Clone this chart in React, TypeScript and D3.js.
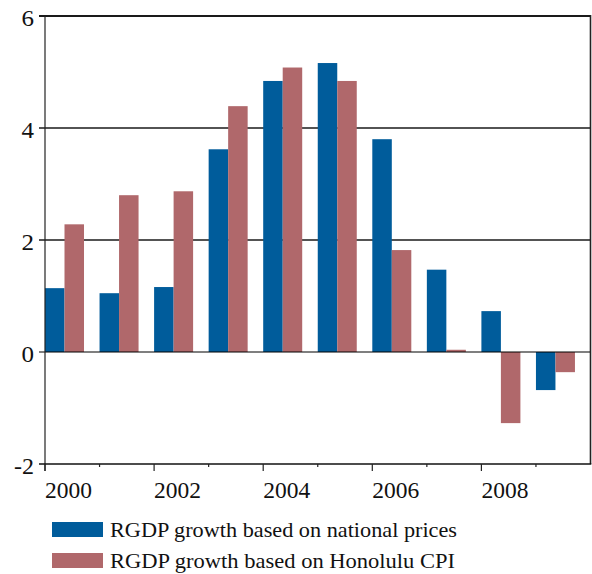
import React, { useEffect, useRef } from "react";
import * as d3 from "d3";

// chart data
const years = [2000, 2001, 2002, 2003, 2004, 2005, 2006, 2007, 2008, 2009];
const nationalPrices = [1.14, 1.05, 1.16, 3.62, 4.84, 5.16, 3.8, 1.47, 0.73, -0.68];
const honoluluCpi = [2.28, 2.8, 2.87, 4.39, 5.08, 4.84, 1.82, 0.04, -1.27, -0.36];
const seriesNames = [
  "RGDP growth based on national prices",
  "RGDP growth based on Honolulu CPI",
];
const seriesColors = ["#005c9b", "#b0686b"];
const yTicks = [-2, 0, 2, 4, 6];
const yearLabels = [2000, 2002, 2004, 2006, 2008];

const FONT = "'Liberation Serif', 'Times New Roman', Times, Tinos, serif";

const drawChart = (node: SVGSVGElement) => {
  const svg = d3.select(node);
  svg.selectAll("*").remove();

  const left = 45,
    right = 590.5,
    top = 16,
    bottom = 464;

  const x0 = d3
    .scaleBand<number>()
    .domain(years)
    .range([left, right])
    .padding(0);
  const x1 = d3
    .scaleBand<number>()
    .domain([0, 1])
    .range([0, x0.bandwidth() * 0.715])
    .padding(0);
  const y = d3.scaleLinear().domain([-2, 6]).range([bottom, top]);

  // gridlines (with left tick stubs)
  svg
    .append("g")
    .selectAll("line")
    .data(yTicks.filter(d => d !== 0 && d !== -2))
    .enter()
    .append("line")
    .attr("x1", left - 6)
    .attr("x2", right)
    .attr("y1", d => y(d))
    .attr("y2", d => y(d))
    .attr("stroke", "#1a1a1a")
    .attr("stroke-width", d => (d === 6 ? 2 : 1.6));

  // bars
  const series = [nationalPrices, honoluluCpi];
  series.forEach((vals, s) => {
    svg
      .append("g")
      .selectAll("rect")
      .data(vals)
      .enter()
      .append("rect")
      .attr("x", (d, i) => (x0(years[i]) as number) + (x1(s) as number))
      .attr("y", d => y(Math.max(0, d)))
      .attr("width", x1.bandwidth())
      .attr("height", d => Math.abs(y(d) - y(0)))
      .attr("fill", seriesColors[s]);
  });

  // zero line
  svg
    .append("line")
    .attr("x1", left - 6)
    .attr("x2", right)
    .attr("y1", y(0))
    .attr("y2", y(0))
    .attr("stroke", "#000")
    .attr("stroke-width", 1.2);

  // frame
  svg
    .append("line")
    .attr("x1", left)
    .attr("x2", left)
    .attr("y1", top)
    .attr("y2", bottom + 7)
    .attr("stroke", "#222")
    .attr("stroke-width", 1.2);
  svg
    .append("line")
    .attr("x1", right)
    .attr("x2", right)
    .attr("y1", top - 1)
    .attr("y2", bottom)
    .attr("stroke", "#222")
    .attr("stroke-width", 1.6);
  svg
    .append("line")
    .attr("x1", left - 6)
    .attr("x2", right + 0.8)
    .attr("y1", bottom)
    .attr("y2", bottom)
    .attr("stroke", "#111")
    .attr("stroke-width", 1.4);

  // x ticks: major on even years, minor on odd
  svg
    .append("g")
    .selectAll("line")
    .data(years)
    .enter()
    .append("line")
    .attr("x1", d => x0(d) as number)
    .attr("x2", d => x0(d) as number)
    .attr("y1", bottom)
    .attr("y2", d => bottom + (d % 2 === 0 ? 7 : 3))
    .attr("stroke", "#222")
    .attr("stroke-width", 1.2);

  // y tick labels (squeezed to the narrow Times-like widths)
  svg
    .append("g")
    .selectAll("text")
    .data(yTicks)
    .enter()
    .append("text")
    .attr("x", 34)
    .attr("y", d => y(d) + 10)
    .attr("text-anchor", "end")
    .attr("textLength", d => (d < 0 ? 20 : 12.5))
    .attr("lengthAdjust", "spacingAndGlyphs")
    .style("font-family", FONT)
    .style("font-size", "23px")
    .attr("fill", "#111")
    .text(d => String(d));

  // x tick labels
  svg
    .append("g")
    .selectAll("text")
    .data(yearLabels)
    .enter()
    .append("text")
    .attr("x", d => x0(d) as number)
    .attr("y", 498)
    .attr("text-anchor", "start")
    .attr("textLength", 47)
    .attr("lengthAdjust", "spacingAndGlyphs")
    .style("font-family", FONT)
    .style("font-size", "23px")
    .attr("fill", "#111")
    .text(d => String(d));

  // legend
  const legend = svg
    .append("g")
    .selectAll("g")
    .data(seriesNames)
    .enter()
    .append("g")
    .attr("transform", (d, i) => "translate(52," + (522 + i * 31) + ")");
  legend
    .append("rect")
    .attr("width", 51)
    .attr("height", 15)
    .attr("fill", (d, i) => seriesColors[i]);
  legend
    .append("text")
    .attr("x", 58)
    .attr("y", 15)
    .attr("textLength", (d, i) => (i === 0 ? 347 : 345))
    .attr("lengthAdjust", "spacingAndGlyphs")
    .style("font-family", FONT)
    .style("font-size", "21px")
    .attr("fill", "#111")
    .text(d => d);
};

export default function App() {
  const ref = useRef<SVGSVGElement>(null);

  useEffect(() => {
    if (ref.current) drawChart(ref.current);
  }, []);

  return (
    <svg
      ref={ref}
      width={592}
      height={574}
      style={{ position: "absolute", left: 0, top: 0, background: "#fff" }}
    />
  );
}
